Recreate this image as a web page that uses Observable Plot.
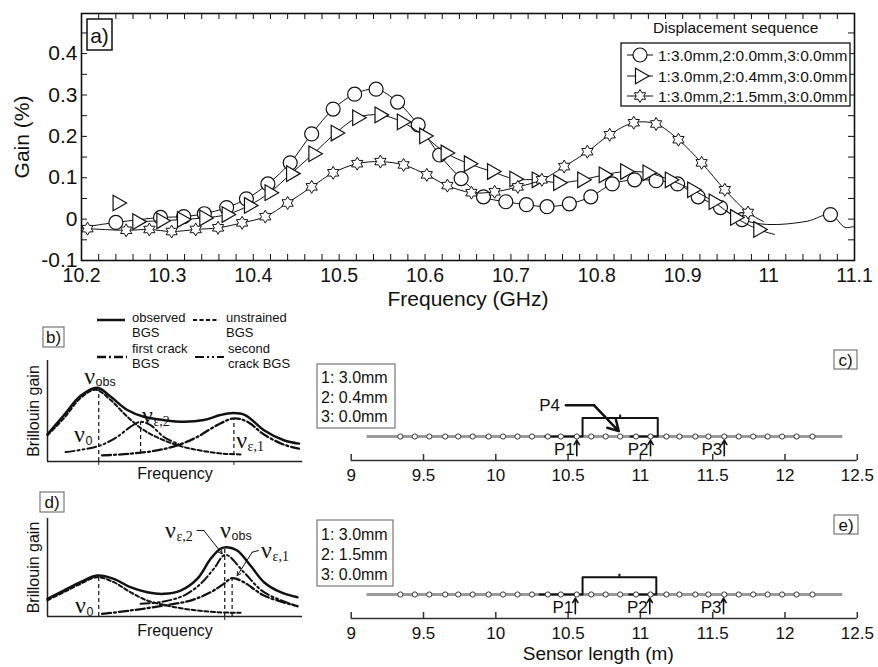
<!DOCTYPE html>
<html><head><meta charset="utf-8">
<script src="https://cdn.jsdelivr.net/npm/d3@7"></script>
<script src="https://cdn.jsdelivr.net/npm/@observablehq/plot@0.6"></script>
<style>
body{margin:0;background:#fff;}
#root{position:relative;width:878px;height:667px;overflow:hidden;font-family:Arial,"Liberation Sans",Helvetica,sans-serif;}
</style></head><body><div id="root"></div>
<script>
// ---------------- Panel a data ----------------
const circFreq = [10.240, 10.292, 10.319, 10.343, 10.369, 10.392, 10.417, 10.443, 10.468, 10.493, 10.518, 10.543, 10.568, 10.592, 10.617, 10.642, 10.668, 10.694, 10.718, 10.742, 10.768, 10.793, 10.818, 10.844, 10.869, 10.894, 10.918, 10.944, 10.969, 11.072];
const circGain = [-0.008, 0.004, 0.006, 0.013, 0.028, 0.049, 0.085, 0.136, 0.206, 0.266, 0.302, 0.314, 0.283, 0.228, 0.155, 0.098, 0.054, 0.042, 0.035, 0.030, 0.037, 0.054, 0.085, 0.095, 0.093, 0.085, 0.054, 0.028, -0.001, 0.011];
const circPathFreq = [10.2, 10.999, 11.045, 11.089, 11.1];
const circPathGain = [-0.02, -0.013, -0.005, -0.02, -0.017];

const triFreq = [10.242, 10.265, 10.293, 10.317, 10.343, 10.369, 10.395, 10.419, 10.444, 10.470, 10.496, 10.521, 10.547, 10.573, 10.599, 10.624, 10.651, 10.678, 10.704, 10.730, 10.755, 10.783, 10.808, 10.833, 10.859, 10.885, 10.911, 10.936, 10.961, 10.988];
const triGain = [0.039, -0.006, -0.004, -0.001, 0.003, 0.011, 0.033, 0.064, 0.110, 0.158, 0.208, 0.245, 0.252, 0.235, 0.201, 0.160, 0.134, 0.115, 0.097, 0.095, 0.088, 0.095, 0.107, 0.115, 0.112, 0.095, 0.071, 0.042, 0.004, -0.025];
const triPathFreq = [11.007];
const triPathGain = [-0.037];

const starFreq = [10.207, 10.252, 10.279, 10.305, 10.333, 10.359, 10.387, 10.414, 10.440, 10.468, 10.493, 10.521, 10.548, 10.575, 10.602, 10.626, 10.654, 10.681, 10.708, 10.736, 10.762, 10.789, 10.815, 10.843, 10.869, 10.895, 10.922, 10.949, 10.976];
const starGain = [-0.023, -0.027, -0.025, -0.030, -0.025, -0.021, -0.009, 0.006, 0.039, 0.078, 0.112, 0.134, 0.139, 0.131, 0.107, 0.081, 0.064, 0.066, 0.078, 0.095, 0.127, 0.163, 0.204, 0.233, 0.230, 0.192, 0.136, 0.071, 0.016];
const starPathFreq = [10.2, 10.994];
const starPathGain = [-0.022, -0.006];

const seriesLabels = ["1:3.0mm,2:0.0mm,3:0.0mm", "1:3.0mm,2:0.4mm,3:0.0mm", "1:3.0mm,2:1.5mm,3:0.0mm"];
const legendTitle = "Displacement sequence";
const aTicksX = [10.2, 10.3, 10.4, 10.5, 10.6, 10.7, 10.8, 10.9, 11, 11.1];
const aTicksY = [-0.1, 0, 0.1, 0.2, 0.3, 0.4];

// ---------------- Panels b / d data (schematic spectra) ----------------
const bObsX = [0, 6.5, 13, 19.5, 24.7, 31.3, 37.8, 45.6, 53.5, 61.3, 67.8, 72.8, 77.5, 84.9, 92.7, 98.6];
const bObsY = [27, 46, 65, 73, 64.3, 51, 44.3, 41, 39.3, 41, 46, 48, 46, 31, 21, 17.7];
const bUnsX = [0, 6.4, 12.9, 18.8, 24.7, 31.3, 37.8, 45.6, 53.5, 61.3, 69.1, 75.7];
const bUnsY = [26, 42.7, 62.7, 71, 61, 44.3, 31, 21, 14.3, 10.3, 7.7, 7];
const bCr1X = [21.4, 32.5, 43, 50.9, 58.7, 66.5, 73.2, 78.4, 84.9, 92.7, 98.6];
const bCr1Y = [6, 7.7, 11, 16, 24.3, 36, 42.7, 39.3, 26.7, 16.7, 12.7];
const bCr2X = [7.1, 14.2, 20.8, 27.3, 32.5, 36.5, 40.4, 45.6, 50.9, 53];
const bCr2Y = [9.3, 12, 16, 24.3, 34.3, 39.3, 36, 24.3, 17.7, 15.5];

const dObsX = [0, 6.4, 12.9, 19.5, 26, 32.5, 39.1, 45.6, 52.2, 58.7, 64, 67.8, 70.5, 74.4, 79.6, 84.9, 91.4, 98];
const dObsY = [18, 26.5, 35, 41.8, 38.4, 29.9, 24.8, 23.1, 26.5, 38.4, 58.9, 69.1, 70.7, 67.3, 52, 35, 24.8, 19.7];
const dUnsX = [0, 6.4, 12.9, 19.5, 26, 32.5, 39.1, 45.6, 52.2, 58.7, 66.5, 75.7];
const dUnsY = [16.6, 24.8, 33.3, 40.1, 35, 24.8, 16.3, 11.9, 8.5, 6.1, 4.4, 3.7];
const dCr1X = [21.4, 32.5, 45.6, 56.1, 64, 69.1, 72.4, 77, 84.9, 98];
const dCr1Y = [2.7, 6.1, 11.2, 16.3, 24.8, 33.3, 39.1, 35, 21.4, 10.5];
const dCr2X = [36.5, 45.6, 53.5, 60, 65.2, 69.8, 77, 84.9, 98];
const dCr2Y = [13, 15.3, 21.4, 33.3, 48.6, 62.9, 45.2, 24.8, 10.5];

const bLegend = ["observed\nBGS", "unstrained\nBGS", "first crack\nBGS", "second\ncrack BGS"];

// ---------------- Panels c / e data ----------------
const sensorPos = [9.34, 9.44, 9.54, 9.65, 9.74, 9.84, 9.95, 10.05, 10.15, 10.25, 10.36, 10.45, 10.56, 10.66, 10.76, 10.86, 10.97, 11.07, 11.18, 11.27, 11.38, 11.47, 11.58, 11.68, 11.78, 11.88, 11.98, 12.08, 12.19];
const fiberExtent = [9.11, 12.40];
const pointNames = ["P1", "P2", "P3"];
const cPointPos = [10.56, 11.07, 11.58];
const ePointPos = [10.55, 11.065, 11.575];
const cSegStart = [10.34, 10.93], cSegEnd = [10.60, 11.12];
const eSegStart = [10.30, 10.92], eSegEnd = [10.60, 11.11];
const cBracket = [10.60, 10.86, 11.12];
const eBracket = [10.60, 10.855, 11.11];
const cDisp = ["1: 3.0mm", "2: 0.4mm", "3: 0.0mm"];
const eDisp = ["1: 3.0mm", "2: 1.5mm", "3: 0.0mm"];
const lengthTicks = [9, 9.5, 10, 10.5, 11, 11.5, 12, 12.5];

// ---------------- helpers ----------------
const FONT = 'Arial, "Liberation Sans", Helvetica, sans-serif';
const SERIF = '"Liberation Serif", "DejaVu Serif", "Times New Roman", serif';
const INK = "#111";
const root = document.getElementById("root");
function place(el, left, top) {
  el.style.position = "absolute"; el.style.left = left + "px"; el.style.top = top + "px";
  root.appendChild(el);
}
const pts = (fs, gs) => fs.map((f, i) => ({f, g: gs[i]}));
const xy = (xs, ys) => xs.map((x, i) => ({x, y: ys[i]}));
const hexagram = {
  draw(ctx, size) {
    const R = Math.sqrt(size / Math.PI), r = R / Math.sqrt(3);
    for (let k = 0; k < 12; k++) {
      const a = -Math.PI / 2 + k * Math.PI / 6, rr = k % 2 ? r : R;
      const x = rr * Math.cos(a), y = rr * Math.sin(a);
      if (k) ctx.lineTo(x, y); else ctx.moveTo(x, y);
    }
    ctx.closePath();
  }
};
const baseStyle = {background: "transparent", overflow: "visible", fontFamily: FONT, color: INK};

// ---------------- Panel a ----------------
const circPts = pts(circFreq, circGain);
const circLine = circPts.concat(pts(circPathFreq, circPathGain)).sort((a, b) => a.f - b.f);
const triPts = pts(triFreq, triGain);
const triLine = triPts.slice(1).concat(pts(triPathFreq, triPathGain)).sort((a, b) => a.f - b.f);
const starPts = pts(starFreq, starGain);
const starLine = starPts.concat(pts(starPathFreq, starPathGain)).sort((a, b) => a.f - b.f);

const aW = 878, aH = 310, aML = 81, aMR = 24, aMT = 13, aMB = 50;
const aFW = aW - aML - aMR, aFH = aH - aMT - aMB;
const minorX = d3.range(0, 46).map(i => +(10.2 + i * 0.02).toFixed(2));
const minorY = d3.range(0, 12).map(i => +(-0.1 + i * 0.05).toFixed(2));

const aPlot = Plot.plot({
  width: aW, height: aH, marginLeft: aML, marginRight: aMR, marginTop: aMT, marginBottom: aMB,
  style: baseStyle,
  x: {domain: [10.2, 11.1]},
  y: {domain: [-0.1, 0.497]},
  marks: [
    Plot.tickX(minorX, {x: d => d, insetTop: aFH - 6, stroke: INK, strokeWidth: 1}),
    Plot.tickX(minorX, {x: d => d, insetBottom: aFH - 6, stroke: INK, strokeWidth: 1}),
    Plot.tickY(minorY, {y: d => d, insetRight: aFW - 6, stroke: INK, strokeWidth: 1}),
    Plot.tickY(minorY, {y: d => d, insetLeft: aFW - 6, stroke: INK, strokeWidth: 1}),
    Plot.axisX(aTicksX, {tickSize: 0, tickPadding: 8, fontSize: 19.5, tickFormat: d => String(d), label: null}),
    Plot.axisY(aTicksY, {tickSize: 0, tickPadding: 4, fontSize: 21, tickFormat: d => String(d), label: null}),
    Plot.text(["Frequency (GHz)"], {text: d => d, frameAnchor: "bottom", textAnchor: "middle", lineAnchor: "middle", dy: 39, fontSize: 21}),
    Plot.text(["Gain (%)"], {text: d => d, frameAnchor: "left", textAnchor: "middle", lineAnchor: "middle", rotate: -90, dx: -59, fontSize: 21}),
    Plot.line(circLine, {x: "f", y: "g", curve: "catmull-rom", stroke: INK, strokeWidth: 1}),
    Plot.dot(circPts, {x: "f", y: "g", r: 7, stroke: INK, fill: "white", strokeWidth: 1.2}),
    Plot.line(triLine, {x: "f", y: "g", curve: "catmull-rom", stroke: INK, strokeWidth: 1}),
    Plot.dot(triPts, {x: "f", y: "g", symbol: "triangle", rotate: 90, r: 5.8, stroke: INK, fill: "white", strokeWidth: 1.2}),
    Plot.line(starLine, {x: "f", y: "g", curve: "catmull-rom", stroke: INK, strokeWidth: 1}),
    Plot.dot(starPts, {x: "f", y: "g", symbol: hexagram, r: 6.5, stroke: INK, fill: "white", strokeWidth: 1}),
    Plot.frame({stroke: INK, strokeWidth: 1.6})
  ]
});
place(aPlot, 0, 0);

// ---------------- Panels b / d ----------------
function bgsPanel(cfg) {
  const fh = cfg.height - 5 - cfg.mb;
  const sansSubs = cfg.labels.filter(d => d.sans);
  const serifSubs = cfg.labels.filter(d => !d.sans);
  return Plot.plot({
    width: 320, height: cfg.height, marginLeft: 47, marginRight: 18, marginTop: 5, marginBottom: cfg.mb,
    style: baseStyle,
    x: {domain: [0, 100], axis: null},
    y: {domain: [0, 100], axis: null},
    marks: [
      Plot.ruleX([0], {stroke: "#222", strokeWidth: 1.5}),
      Plot.ruleY([0], {stroke: "#222", strokeWidth: 1.5}),
      Plot.tickX(cfg.axisTicks, {x: d => d, insetTop: fh, insetBottom: -4, stroke: "#222", strokeWidth: 1}),
      Plot.ruleX(cfg.vlines, {x: "x", y1: "y1", y2: "y2", stroke: INK, strokeWidth: 1.2, strokeDasharray: "4,3"}),
      Plot.line(xy(cfg.uns[0], cfg.uns[1]), {x: "x", y: "y", curve: "catmull-rom", stroke: INK, strokeWidth: 2, strokeDasharray: "4,2.5"}),
      Plot.line(xy(cfg.cr2[0], cfg.cr2[1]), {x: "x", y: "y", curve: "catmull-rom", stroke: INK, strokeWidth: 2, strokeDasharray: "9,3,2,3,2,3"}),
      Plot.line(xy(cfg.cr1[0], cfg.cr1[1]), {x: "x", y: "y", curve: "catmull-rom", stroke: INK, strokeWidth: 2.3, strokeDasharray: "9,3,2,3"}),
      Plot.line(xy(cfg.obs[0], cfg.obs[1]), {x: "x", y: "y", curve: "catmull-rom", stroke: INK, strokeWidth: 2.5}),
      ...cfg.leaders.map(L => Plot.line(L.slice(0, 2), {x: d => d[0], y: d => d[1], stroke: INK, strokeWidth: 1})),
      Plot.arrow(cfg.leaders, {x1: L => L[1][0], y1: L => L[1][1], x2: L => L[2][0], y2: L => L[2][1], stroke: INK, strokeWidth: 1, headLength: 6}),
      Plot.text(cfg.labels, {x: "x", y: "y", text: () => "\u03bd", fontFamily: SERIF, fontSize: 24}),
      Plot.text(sansSubs, {x: "x", y: "y", text: "sub", dx: 6, dy: 6, textAnchor: "start", fontSize: 12.5}),
      Plot.text(serifSubs, {x: "x", y: "y", text: "sub", dx: 6, dy: 6, textAnchor: "start", fontFamily: SERIF, fontSize: 14}),
      Plot.text(["Brillouin gain"], {text: d => d, frameAnchor: "left", textAnchor: "middle", lineAnchor: "middle", rotate: -90, dx: -14, fontSize: 16}),
      Plot.text(["Frequency"], {text: d => d, frameAnchor: "bottom", textAnchor: "middle", lineAnchor: "middle", dy: cfg.fdy, fontSize: 16})
    ]
  });
}
const bPlot = bgsPanel({
  height: 130, mb: 24, fdy: 12,
  obs: [bObsX, bObsY], uns: [bUnsX, bUnsY], cr1: [bCr1X, bCr1Y], cr2: [bCr2X, bCr2Y],
  axisTicks: [20.1, 73.1],
  vlines: [{x: 20.1, y1: 0, y2: 71}, {x: 36.5, y1: 8, y2: 38.5}, {x: 73.1, y1: 6, y2: 42}],
  labels: [{x: 16.5, y: 84.2, sub: "obs", sans: true}, {x: 12.5, y: 26.7, sub: "0", sans: true},
           {x: 39.2, y: 45.5, sub: "\u03b5,2"}, {x: 76.1, y: 20.8, sub: "\u03b5,1"}],
  leaders: []
});
place(bPlot, 0, 355);

const dPlot = bgsPanel({
  height: 130, mb: 27, fdy: 14,
  obs: [dObsX, dObsY], uns: [dUnsX, dUnsY], cr1: [dCr1X, dCr1Y], cr2: [dCr2X, dCr2Y],
  axisTicks: [69.5],
  vlines: [{x: 20.1, y1: 0, y2: 40}, {x: 69.5, y1: 0, y2: 70}, {x: 72.4, y1: 0, y2: 39}],
  labels: [{x: 48.2, y: 87.8, sub: "\u03b5,2"}, {x: 69.8, y: 87.8, sub: "obs", sans: true},
           {x: 85.9, y: 67.3, sub: "\u03b5,1"}, {x: 12.9, y: 11.2, sub: "0", sans: true}],
  leaders: [[[58.7, 87.8], [61.3, 87.8], [68.5, 64]], [[82.7, 67.3], [80.3, 65.6], [74.4, 41.8]]]
});
place(dPlot, 0, 513);

// ---------------- Panels c / e ----------------
function sensorPanel(cfg) {
  const fh = 84;
  const segs = cfg.segStart.map((s, i) => ({x1: s, x2: cfg.segEnd[i]}));
  const pp = pointNames.map((n, i) => ({name: n, x: cfg.pPos[i]}));
  const [bl, bm, br] = cfg.bracket;
  const bh = cfg.bh;
  const marks = [
    Plot.ruleY([-2], {stroke: "#333", strokeWidth: 1.5}),
    Plot.tickX(lengthTicks, {x: d => d, insetTop: fh - 6, stroke: "#333", strokeWidth: 1.5}),
    Plot.axisX(lengthTicks, {tickSize: 0, tickPadding: 8, fontSize: 17, tickFormat: d => String(d), label: null}),
    Plot.ruleY([0], {x1: fiberExtent[0], x2: fiberExtent[1], stroke: "#9a9a9a", strokeWidth: 3}),
    Plot.ruleY(segs, {x1: "x1", x2: "x2", y: 0, stroke: INK, strokeWidth: 2}),
    Plot.line([[bl, 0], [bl, bh], [br, bh], [br, 0]], {x: d => d[0], y: d => d[1], stroke: INK, strokeWidth: 2}),
    Plot.ruleX([bm], {y1: bh, y2: bh + 0.25, stroke: INK, strokeWidth: 2}),
    Plot.dot(sensorPos, {x: d => d, y: 0, r: 2.6, stroke: "#333", fill: "white", strokeWidth: 1}),
    Plot.arrow(pp, {x1: "x", x2: "x", y1: -1.6, y2: -0.3, stroke: INK, strokeWidth: 1.6, headLength: 6}),
    Plot.text(pp, {x: "x", y: -1.1, text: "name", textAnchor: "end", lineAnchor: "middle", dx: -2, fontSize: 17})
  ];
  if (cfg.p4) {
    const L = cfg.p4;
    marks.push(
      Plot.line(L.slice(0, 2), {x: d => d[0], y: d => d[1], stroke: INK, strokeWidth: 2.5}),
      Plot.arrow([L], {x1: d => d[1][0], y1: d => d[1][1], x2: d => d[2][0], y2: d => d[2][1], stroke: INK, strokeWidth: 2.5, headLength: 10}),
      Plot.text(["P4"], {text: d => d, x: L[0][0], y: L[0][1], textAnchor: "end", lineAnchor: "middle", dx: -6, fontSize: 17})
    );
  }
  if (cfg.xlabel) marks.push(Plot.text([cfg.xlabel], {text: d => d, frameAnchor: "bottom", textAnchor: "middle", lineAnchor: "middle", dx: -6, dy: 35, fontSize: 19}));
  return Plot.plot({
    width: 558, height: cfg.height, marginLeft: 30.7, marginRight: 21.2, marginTop: cfg.mt, marginBottom: cfg.mb,
    style: baseStyle,
    x: {domain: [9, 12.5]},
    y: {domain: [-2, 5], axis: null},
    marks
  });
}
const cPlot = sensorPanel({height: 160, mt: 36, mb: 40, segStart: cSegStart, segEnd: cSegEnd, pPos: cPointPos,
  bracket: cBracket, bh: 1.54, p4: [[10.485, 2.6], [10.68, 2.6], [10.85, 0.45]]});
place(cPlot, 320, 340);
const ePlot = sensorPanel({height: 167, mt: 34, mb: 49, segStart: eSegStart, segEnd: eSegEnd, pPos: ePointPos,
  bracket: eBracket, bh: 1.44, xlabel: "Sensor length (m)"});
place(ePlot, 320, 500);

// ---------------- Overlay: panel tags and legends ----------------
const ov = d3.create("svg").attr("width", 878).attr("height", 667)
  .style("position", "absolute").style("left", "0px").style("top", "0px")
  .style("font-family", FONT).style("overflow", "visible");
function box(x, y, w, h, stroke, sw) {
  ov.append("rect").attr("x", x).attr("y", y).attr("width", w).attr("height", h)
    .attr("fill", "white").attr("stroke", stroke).attr("stroke-width", sw);
}
function txt(x, y, s, size, anchor = "start") {
  ov.append("text").attr("x", x).attr("y", y).attr("font-size", size).attr("text-anchor", anchor)
    .attr("dominant-baseline", "central").attr("fill", INK).text(s);
}
function txt2(x, y, lines, size, gap) {
  const t = ov.append("text").attr("x", x).attr("y", y).attr("font-size", size).attr("fill", INK);
  lines.forEach((s, i) => t.append("tspan").attr("x", x).attr("dy", i ? gap : 0).text(s));
}
function seg(x1, x2, y, sw, dash) {
  const l = ov.append("line").attr("x1", x1).attr("x2", x2).attr("y1", y).attr("y2", y)
    .attr("stroke", INK).attr("stroke-width", sw);
  if (dash) l.attr("stroke-dasharray", dash);
}
// a)
box(87, 19, 25, 31, INK, 1.5); txt(99.5, 35, "a)", 21, "middle");
txt(653, 27.5, legendTitle, 15.5);
box(621, 43, 229, 63, INK, 1.3);
const rowY = [55, 76, 96];
rowY.forEach((y, i) => {
  seg(627, 653, y, 1);
  const g = ov.append("g").attr("transform", `translate(640,${y})`);
  if (i === 0) g.append("circle").attr("r", 7).attr("fill", "white").attr("stroke", INK).attr("stroke-width", 1.2);
  if (i === 1) g.append("path").attr("d", d3.symbol(d3.symbolTriangle, Math.PI * 5.8 * 5.8)()).attr("transform", "rotate(90)").attr("fill", "white").attr("stroke", INK).attr("stroke-width", 1.2);
  if (i === 2) g.append("path").attr("d", d3.symbol(hexagram, Math.PI * 6.5 * 6.5)()).attr("fill", "white").attr("stroke", INK).attr("stroke-width", 1);
  txt(658, y, seriesLabels[i], 15.5);
});
// b)
box(43, 327, 21, 20, "#777", 1.2); txt(53.5, 337.5, "b)", 17, "middle");
seg(97, 125, 320, 2.5);
seg(193, 219, 320, 2, "4,2.5");
seg(97, 127, 357, 2.3, "9,3,2,3");
seg(195, 224, 357, 2, "9,3,2,3,2,3");
const bLegPos = [[132, 322], [226, 322], [132, 353.2], [228, 353.2]];
bLegend.forEach((s, i) => txt2(bLegPos[i][0], bLegPos[i][1], s.split("\n"), 13, 15.2));
// c)
box(834, 350, 23, 19, "#777", 1.2); txt(845.5, 360, "c)", 17, "middle");
box(317, 364, 78, 64, "#777", 1.2);
txt2(321, 382.8, cDisp, 16, 19.7);
// d)
box(40, 492, 24, 20, "#777", 1.2); txt(52, 502.5, "d)", 17, "middle");
// e)
box(834, 515, 24, 19, "#777", 1.2); txt(846, 525, "e)", 17, "middle");
box(317, 520, 76, 66, "#777", 1.2);
txt2(321, 540.4, eDisp, 16, 19.6);

root.appendChild(ov.node());
</script></body></html>
